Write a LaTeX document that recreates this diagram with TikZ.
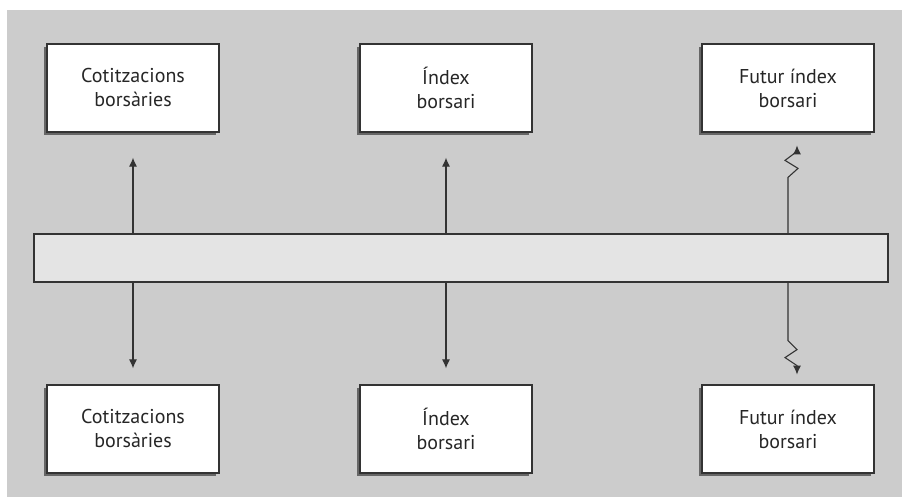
\documentclass[tikz,border=0pt]{standalone}
\usepackage{fontspec}
\setmainfont{PT Sans}
\usetikzlibrary{arrows.meta,shadows}

\definecolor{bgray}{HTML}{CCCCCC}
\definecolor{bargray}{HTML}{E4E4E4}
\definecolor{ink}{HTML}{333333}

\tikzset{
  infobox/.style={draw=ink, line width=1.2pt, fill=white, minimum width=172pt,
    minimum height=88pt, align=center, text=black!85, font=\fontsize{20}{24}\selectfont,
    drop shadow={shadow xshift=-3pt, shadow yshift=-3pt, fill=black!60, opacity=1}},
  arr/.style={draw=ink, line width=1.1pt, -{Latex[length=9pt,width=8pt]}}
}

\begin{document}
\begin{tikzpicture}[x=1pt,y=1pt]
  \useasboundingbox (0,0) rectangle (902,497);
  \fill[bgray] (7,0) rectangle (902,487);

  % top row
  \node[infobox] (cottop) at (133,409) {Cotitzacions\\borsàries};
  \node[infobox] (idxtop) at (446,409) {Índex\\borsari};
  \node[infobox] (futtop) at (788,409) {Futur índex\\borsari};

  % bottom row
  \node[infobox] (cotbot) at (133,68) {Cotitzacions\\borsàries};
  \node[infobox] (idxbot) at (446,68) {Índex\\borsari};
  \node[infobox] (futbot) at (788,68) {Futur índex\\borsari};

  % the bar in the middle
  \node[draw=ink, line width=1.2pt, fill=bargray, minimum width=854pt,
    minimum height=48pt, inner sep=0pt] (bar) at (461,239) {};

  \draw[arr, shorten >=25pt] (bar.north -| cottop) -- (cottop.south);
  \draw[arr, shorten >=25pt] (bar.north -| idxtop) -- (idxtop.south);
  \draw[arr] (bar.north -| futtop) -- ++(0,56) -- ++(10,9) -- ++(-13,8) -- ++(12,9) -- ++(0,6);

  \draw[arr, shorten >=16pt] (bar.south -| cotbot) -- (cotbot.north);
  \draw[arr, shorten >=16pt] (bar.south -| idxbot) -- (idxbot.north);
  \draw[arr] (bar.south -| futbot) -- ++(0,-58) -- ++(9,-9) -- ++(-12,-8) -- ++(12,-8) -- ++(0,-9);
\end{tikzpicture}
\end{document}
